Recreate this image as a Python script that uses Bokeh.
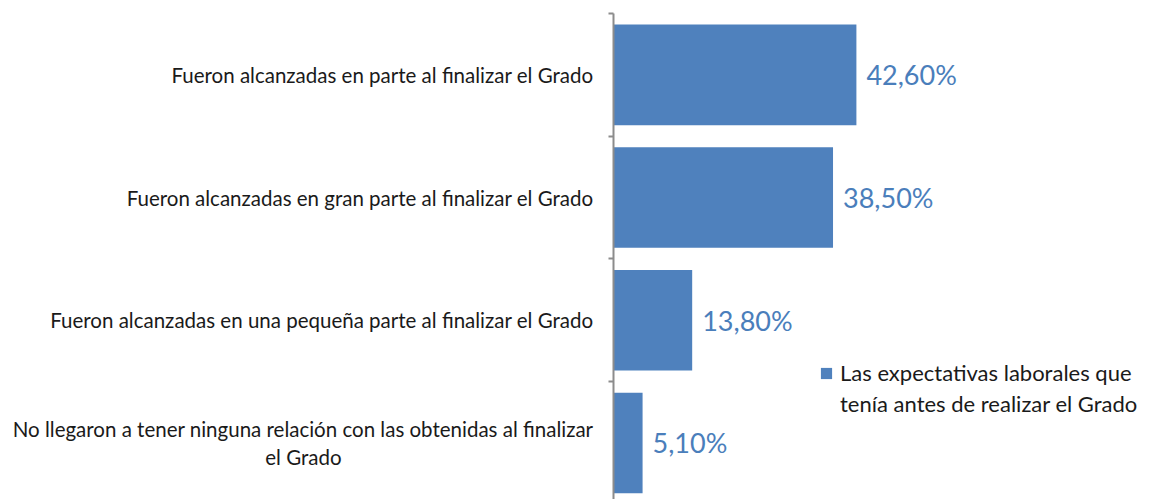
from bokeh.plotting import figure
from bokeh.models import ColumnDataSource, Range1d, FixedTicker, Legend, LegendItem
from bokeh.core.properties import value
from bokeh.embed import file_html
from bokeh.resources import INLINE

NBSP = "\u00a0"
categories = [
    "No llegaron a tener ninguna relación con las obtenidas al finalizar\nel Grado",
    "Fueron alcanzadas en una pequeña parte al finalizar el Grado",
    "Fueron alcanzadas en gran parte al finalizar el Grado",
    "Fueron alcanzadas en parte al finalizar el Grado",
]
values = [5.1, 13.8, 38.5, 42.6]
value_labels = ["5,10%", "13,80%", "38,50%", "42,60%"]
series_name_lines = ["Las expectativas laborales que", "tenía antes de realizar el Grado"]

positions = [i + 0.5 for i in range(len(categories))]
boundaries = [float(i) for i in range(len(categories) + 1)]

# centre the second line of a wrapped label under the first one (labels are right-aligned)
def centre_lines(label):
    lines = label.split("\n")
    if len(lines) == 1:
        return label
    return lines[0] + "\n" + lines[1] + NBSP * 48

tick_labels = [centre_lines(c) for c in categories]

src = ColumnDataSource(dict(y=positions, v=values, lab=value_labels))

FONT = "Lato"
BAR = "#4F81BD"

p = figure(width=1141, height=499, output_backend="svg", toolbar_location=None,
           x_range=Range1d(0, 92.6), y_range=Range1d(0.039, 4.0),
           min_border_left=613, min_border_top=13, min_border_right=0, min_border_bottom=0)
p.outline_line_color = None
p.xgrid.visible = False
p.ygrid.visible = False
p.xaxis.visible = False
p.background_fill_color = "white"
p.border_fill_color = "white"

r = p.hbar(y="y", right="v", left=0, height=0.82, source=src, fill_color=BAR, line_color=None)

p.text(x="v", y="y", text="lab", source=src, x_offset=10, text_baseline="middle",
       text_align="left", text_color="#4A7EBB", text_font=value(FONT), text_font_size="27px")

ya = p.yaxis[0]
ya.ticker = FixedTicker(ticks=positions, minor_ticks=boundaries)
ya.major_label_overrides = {pos: c for pos, c in zip(positions, tick_labels)}
ya.major_tick_line_color = None
ya.major_tick_out = 0
ya.major_tick_in = 0
ya.minor_tick_out = 5
ya.minor_tick_in = 0
ya.minor_tick_line_color = "#8C8C8C"
ya.minor_tick_line_width = 2
ya.axis_line_color = "#8C8C8C"
ya.axis_line_width = 2
ya.major_label_standoff = 15
ya.major_label_text_font = FONT
ya.major_label_text_font_size = "20.5px"
ya.major_label_text_color = "#1A1A1A"

legend = Legend(items=[LegendItem(label=series_name_lines[0], renderers=[r]),
                       LegendItem(label=series_name_lines[1], renderers=[])],
                location=(206, 82), border_line_color=None, background_fill_alpha=0,
                padding=0, margin=0, spacing=4, glyph_width=14, glyph_height=14, label_standoff=7,
                label_text_font=FONT, label_text_font_size="22px", label_text_color="#1A1A1A")
p.add_layout(legend)

open("out.html", "w").write(file_html(p, INLINE))
